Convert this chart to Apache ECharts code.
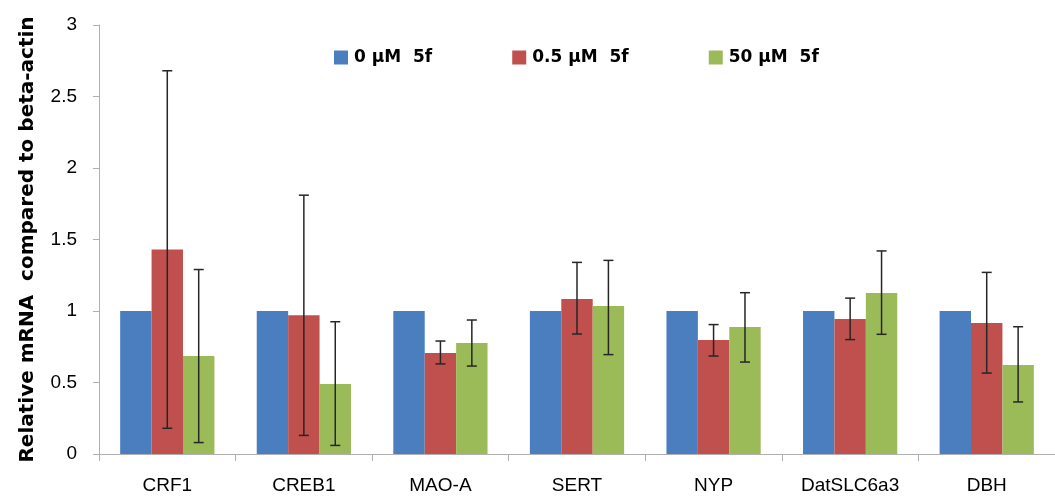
<!DOCTYPE html>
<html>
<head>
<meta charset="utf-8">
<script src="https://cdn.jsdelivr.net/npm/echarts@6/dist/echarts.min.js"></script>
<style>
  html, body { margin: 0; padding: 0; background: #fff; }
  #chart { width: 1055px; height: 496px; }
</style>
</head>
<body>
<div id="chart"></div>
<script type="text/javascript">
var genes = ['CRF1', 'CREB1', 'MAO-A', 'SERT', 'NYP', 'DatSLC6a3', 'DBH'];
var seriesNames = ['0 \u03bcM  5f', '0.5 \u03bcM  5f', '50 \u03bcM  5f'];
var colors = ['#4a7ebf', '#c0504d', '#9bbb59'];

// mean values
var dose0 = [1, 1, 1, 1, 1, 1, 1];
var dose05 = [1.43, 0.97, 0.706, 1.084, 0.797, 0.944, 0.916];
var dose50 = [0.685, 0.49, 0.776, 1.035, 0.888, 1.126, 0.622];

// error bar ends [low, high]
var err05 = [[0.18, 2.68], [0.13, 1.81], [0.63, 0.79], [0.839, 1.34], [0.685, 0.905], [0.80, 1.09], [0.566, 1.27]];
var err50 = [[0.08, 1.29], [0.06, 0.925], [0.615, 0.937], [0.695, 1.354], [0.643, 1.128], [0.837, 1.42], [0.364, 0.89]];

var catGap = 0.31;  // share of category left empty

function errorSeries(errs, idx) {
  return {
    type: 'custom',
    name: seriesNames[idx],
    z: 10,
    silent: true,
    renderItem: function (params, api) {
      var i = api.value(0);
      var band = api.size([1, 0])[0];
      var bw = band * (1 - catGap) / 3;
      var c = api.coord([i, api.value(1)]);
      var x = c[0] + (idx - 1) * bw;
      var yLow = api.coord([i, api.value(1)])[1];
      var yHigh = api.coord([i, api.value(2)])[1];
      var cap = 5;
      var style = { stroke: '#262626', lineWidth: 1.5 };
      return {
        type: 'group',
        children: [
          { type: 'line', shape: { x1: x, y1: yLow, x2: x, y2: yHigh }, style: style },
          { type: 'line', shape: { x1: x - cap, y1: yLow, x2: x + cap, y2: yLow }, style: style },
          { type: 'line', shape: { x1: x - cap, y1: yHigh, x2: x + cap, y2: yHigh }, style: style }
        ]
      };
    },
    encode: { x: 0, y: [1, 2] },
    data: errs.map(function (e, i) { return [i, e[0], e[1]]; })
  };
}

var myChart = echarts.init(document.getElementById('chart'));
var option = {
  animation: false,
  textStyle: { fontFamily: 'Liberation Sans, Arial, sans-serif' },
  color: colors,
  legend: {
    top: 44,
    left: 329,
    itemWidth: 14,
    itemHeight: 14,
    itemGap: 80,
    icon: 'rect',
    data: seriesNames,
    textStyle: { fontSize: 17, fontWeight: 'bold', color: '#000', fontFamily: 'DejaVu Sans', padding: [0, 0, 0, 1] }
  },
  grid: { left: 99, right: 0, top: 25, bottom: 42 },
  xAxis: {
    type: 'category',
    data: genes,
    axisLine: { lineStyle: { color: '#b0b0b0', width: 1 } },
    axisTick: { show: true, length: 7, lineStyle: { color: '#b0b0b0' } },
    axisLabel: { fontSize: 19, color: '#000', margin: 22 }
  },
  yAxis: {
    type: 'value',
    min: 0,
    max: 3,
    interval: 0.5,
    name: 'Relative mRNA  compared to beta-actin',
    nameLocation: 'middle',
    nameGap: 61,
    nameTextStyle: { fontSize: 20, fontWeight: 'bold', color: '#000', fontFamily: 'DejaVu Sans' },
    axisLine: { show: true, lineStyle: { color: '#b0b0b0', width: 1 } },
    axisTick: { show: true, length: 6, lineStyle: { color: '#b0b0b0' } },
    axisLabel: { fontSize: 19, color: '#000', margin: 22 },
    splitLine: { show: false }
  },
  series: [
    { name: seriesNames[0], type: 'bar', data: dose0, barGap: '0%', barCategoryGap: '31%' },
    { name: seriesNames[1], type: 'bar', data: dose05, barGap: '0%', barCategoryGap: '31%' },
    { name: seriesNames[2], type: 'bar', data: dose50, barGap: '0%', barCategoryGap: '31%' },
    errorSeries(err05, 1),
    errorSeries(err50, 2)
  ]
};
myChart.setOption(option);
</script>
</body>
</html>
